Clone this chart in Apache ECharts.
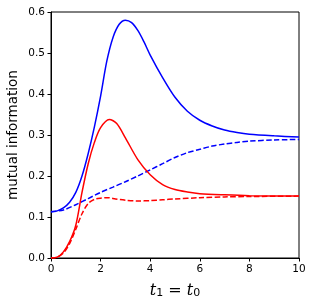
<!DOCTYPE html>
<html><head><meta charset="utf-8">
<script src="https://cdn.jsdelivr.net/npm/echarts@6/dist/echarts.min.js"></script>
<style>html,body{margin:0;padding:0;background:#fff}#c{width:313px;height:307px}</style>
</head><body><div id="c"></div>
<script>
const tBlue = [0,0.25,0.5,0.75,1,1.25,1.5,1.75,2,2.25,2.5,2.75,3,3.25,3.5,3.75,4,4.5,5,5.5,6,6.5,7,7.5,8,9,10];
const blueSolid = [0.113,0.115,0.122,0.136,0.160,0.200,0.255,0.320,0.395,0.480,0.538,0.570,0.580,0.574,0.555,0.527,0.495,0.440,0.392,0.358,0.336,0.322,0.312,0.306,0.302,0.298,0.295];
const tBlueD = [0,0.5,1,1.5,2,2.5,3,3.5,4,4.5,5,5.5,6,6.5,7,7.5,8,9,10];
const blueDashed = [0.113,0.117,0.130,0.145,0.160,0.173,0.186,0.200,0.215,0.230,0.245,0.257,0.265,0.273,0.278,0.282,0.285,0.288,0.289];
const tRed = [0,0.25,0.5,0.75,1,1.25,1.5,1.75,2,2.35,2.65,3,3.5,4,4.5,5,5.5,6,7,8,10];
const redSolid = [0,0.002,0.015,0.040,0.080,0.160,0.230,0.282,0.318,0.338,0.328,0.293,0.240,0.203,0.179,0.167,0.161,0.157,0.154,0.152,0.151];
const tRedD = [0,0.25,0.5,0.75,1,1.25,1.5,1.75,2,2.3,2.6,3,3.5,4,4.5,5,6,7,8,10];
const redDashed = [0,0.002,0.012,0.035,0.070,0.108,0.133,0.143,0.146,0.147,0.144,0.141,0.139,0.140,0.142,0.144,0.147,0.149,0.150,0.151];

const pairs = (xs, ys) => xs.map((x, i) => [x, ys[i]]);
const chart = echarts.init(document.getElementById('c'), null, {renderer: 'canvas'});
const mk = (name, xs, ys, color, dashed) => ({
  name, type: 'line', data: pairs(xs, ys), showSymbol: false, smooth: 0.3,
  lineStyle: {color, width: 1.5, type: dashed ? [5.5, 2.4] : 'solid'},
  animation: false
});
chart.setOption({
  animation: false,
  grid: {left: 51, right: 14, top: 12, bottom: 49, show: true, borderColor: '#000', borderWidth: 1, containLabel: false, outerBoundsMode: 'none'},
  xAxis: {
    type: 'value', min: 0, max: 10, interval: 2,
    name: '{i|t}{s|1}{n| = }{i|t}{s|0}', nameLocation: 'middle', nameGap: 21,
    nameTextStyle: {
      rich: {
        i: {fontFamily: 'DejaVu Serif', fontStyle: 'italic', fontSize: 16, color: '#000', verticalAlign: 'bottom', lineHeight: 20},
        s: {fontFamily: 'DejaVu Sans', fontSize: 11, color: '#000', verticalAlign: 'bottom', lineHeight: 14},
        n: {fontFamily: 'DejaVu Sans', fontSize: 16, color: '#000', verticalAlign: 'bottom', lineHeight: 20}
      }
    },
    axisLine: {show: true, lineStyle: {color: '#000', width: 1}},
    axisTick: {show: true, length: 3.5, lineStyle: {color: '#000', width: 1}},
    axisLabel: {color: '#000', fontSize: 10.5, fontFamily: 'DejaVu Sans', margin: 6},
    splitLine: {show: false}
  },
  yAxis: {
    type: 'value', min: 0, max: 0.6, interval: 0.1,
    name: 'mutual information', nameLocation: 'middle', nameGap: 31, nameMoveOverlap: false,
    nameTextStyle: {color: '#000', fontSize: 13.5, fontFamily: 'DejaVu Sans'},
    axisLine: {show: true, lineStyle: {color: '#000', width: 1}},
    axisTick: {show: true, length: 3.5, lineStyle: {color: '#000', width: 1}},
    axisLabel: {color: '#000', fontSize: 10.5, fontFamily: 'DejaVu Sans', margin: 6, formatter: v => v.toFixed(1)},
    splitLine: {show: false}
  },
  series: [
    mk('blue solid', tBlue, blueSolid, '#0000ff', false),
    mk('blue dashed', tBlueD, blueDashed, '#0000ff', true),
    mk('red solid', tRed, redSolid, '#ff0000', false),
    mk('red dashed', tRedD, redDashed, '#ff0000', true)
  ]
});
</script></body></html>
